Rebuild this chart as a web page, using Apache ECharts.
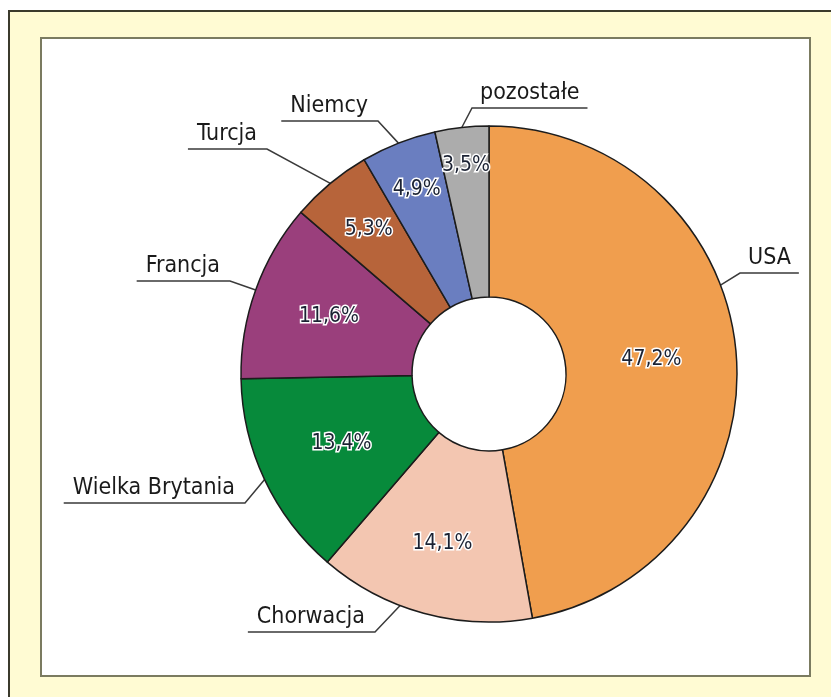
<!DOCTYPE html>
<html>
<head>
<meta charset="utf-8">
<script src="https://cdn.jsdelivr.net/npm/echarts@6/dist/echarts.min.js"></script>
<style>
  html, body { margin: 0; padding: 0; background: #fff; }
  #main { width: 831px; height: 697px; }
</style>
</head>
<body>
<div id="main"></div>
<script>
// udział krajów (%)
const countries = ['USA', 'Chorwacja', 'Wielka Brytania', 'Francja', 'Turcja', 'Niemcy', 'pozostałe'];
const shares = [47.2, 14.1, 13.4, 11.6, 5.3, 4.9, 3.5];
const colors = ['#f09e4e', '#f3c6b1', '#078a3b', '#9a3f7c', '#b7643a', '#6a7ec0', '#acacac'];

// layout of the labels: elbow of the leader line, text side, optional anchor angle
const labelElbow = [
  [740, 273, 'right', 69],
  [375, 632, 'left', 201],
  [245, 503, 'left'],
  [230, 281, 'left'],
  [267, 149, 'left'],
  [378, 121, 'left'],
  [472, 108, 'right']
];
const pctRadius = [163, 176, 163, 170, 188, 198, 210];
const center = [489, 374];
const radius = [77, 248];
const font = "'Liberation Sans Narrow', 'DejaVu Sans Condensed', 'Roboto Condensed', sans-serif";

const pieData = countries.map(function (name, i) {
  return { name: name, value: shares[i], itemStyle: { color: colors[i] } };
});

function edgePoint(angleDeg) {
  const a = angleDeg * Math.PI / 180;
  return [center[0] + radius[1] * Math.sin(a), center[1] - radius[1] * Math.cos(a)];
}

const chart = echarts.init(document.getElementById('main'));

const option = {
  backgroundColor: '#ffffff',
  animation: false,
  graphic: [
    {
      type: 'rect', z: -10,
      shape: { x: 9, y: 11, width: 840, height: 700 },
      style: { fill: '#fffbd3', stroke: '#3b3a2c', lineWidth: 2 }
    },
    {
      type: 'rect', z: -9,
      shape: { x: 41, y: 38, width: 769, height: 638 },
      style: { fill: '#ffffff', stroke: '#7b7b60', lineWidth: 2 }
    }
  ],
  series: [
    {
      // slices + percentages
      type: 'pie',
      center: center,
      radius: radius,
      startAngle: 90,
      clockwise: true,
      avoidLabelOverlap: false,
      itemStyle: { borderColor: '#1c1c1c', borderWidth: 1.5 },
      emphasis: { disabled: true },
      label: {
        position: 'inside',
        fontFamily: font,
        fontSize: 21,
        color: '#1b2233',
        textBorderColor: '#ffffff',
        textBorderWidth: 3,
        formatter: function (p) {
          return p.value.toFixed(1).replace('.', ',') + '%';
        }
      },
      labelLayout: function (p) {
        const r = p.labelRect;
        const mx = r.x + r.width / 2 - center[0];
        const my = r.y + r.height / 2 - center[1];
        const len = Math.sqrt(mx * mx + my * my) || 1;
        const R = pctRadius[p.dataIndex];
        return {
          x: center[0] + mx / len * R,
          y: center[1] + my / len * R,
          align: 'center',
          verticalAlign: 'middle'
        };
      },
      data: pieData
    },
    {
      // country names with underlined leader lines
      type: 'pie',
      center: center,
      radius: radius,
      startAngle: 90,
      clockwise: true,
      silent: true,
      avoidLabelOverlap: false,
      itemStyle: { color: 'rgba(0,0,0,0)', borderWidth: 0 },
      label: {
        position: 'outside',
        fontFamily: font,
        fontSize: 23,
        color: '#1a1a1a',
        formatter: '{b}'
      },
      labelLine: {
        show: true,
        length: 10,
        length2: 10,
        lineStyle: { color: '#3a3a3a', width: 1.5 }
      },
      labelLayout: function (p) {
        const e = labelElbow[p.dataIndex];
        const w = p.labelRect.width;
        let start;
        if (e[3] != null) {
          start = edgePoint(e[3]);
        } else if (p.labelLinePoints) {
          start = p.labelLinePoints[0];
        } else {
          let before = 0;
          for (let k = 0; k < p.dataIndex; k++) before += shares[k];
          start = edgePoint((before + shares[p.dataIndex] / 2) / 100 * 360);
        }
        const right = e[2] === 'right';
        const tx = right ? e[0] + 8 : e[0] - 10;
        const end = right ? tx + w + 8 : tx - w - 9;
        return {
          x: tx,
          y: e[1] - 3,
          align: right ? 'left' : 'right',
          verticalAlign: 'bottom',
          labelLinePoints: [start, [e[0], e[1]], [end, e[1]]]
        };
      },
      data: pieData.map(function (d) { return { name: d.name, value: d.value }; })
    }
  ]
};

chart.setOption(option);
</script>
</body>
</html>
